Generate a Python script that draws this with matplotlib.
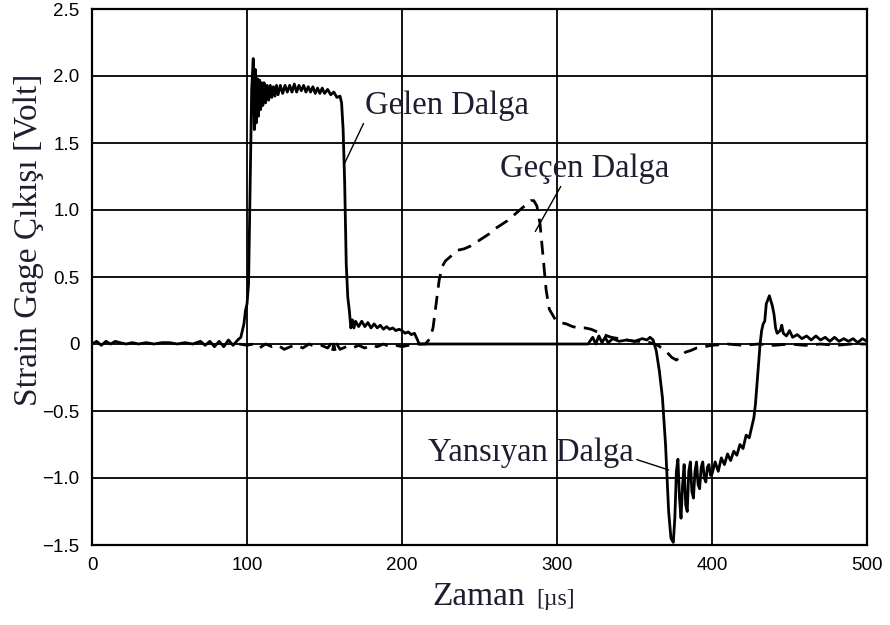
import matplotlib
matplotlib.use("Agg")
import matplotlib.pyplot as plt

# gelen + yansiyan dalga (duz cizgi)
t_solid = [0, 3, 6, 9, 12, 15, 18, 22, 26, 30, 35, 40, 45, 50, 55, 60, 65, 70, 73, 76, 79, 82, 85, 88, 91, 94,
           96, 97, 98, 99, 100, 101, 102, 103, 104, 104.7, 105.3, 106, 106.7, 107.4, 108.1, 108.8, 109.5, 110.2,
           111, 112, 113, 114, 115, 116, 117, 118, 119, 120, 121.5, 123, 124.5, 126, 127.5, 129, 130.5, 132,
           133.5, 135, 136.5, 138, 139.5, 141, 142.5, 144, 145.5, 147, 148.5, 150, 152, 154, 156, 158, 160,
           161, 162, 163, 164, 165, 166, 167, 168, 169, 170, 172, 174, 176, 178, 180, 182, 184, 186, 188, 190,
           192, 194, 196, 198, 200, 202, 204, 206, 208, 210, 211, 220, 240, 260, 280, 300, 320, 323, 325, 327,
           329, 331, 333, 336, 340, 345, 350, 355, 358, 360, 362, 364, 366, 368, 370, 371, 372, 373.5, 375,
           376, 377, 378, 379, 380, 381, 382, 383, 384, 385, 386, 387, 388, 389, 390, 391, 392, 393, 394, 395,
           396, 397, 398, 399, 400, 402, 404, 406, 408, 410, 412, 414, 416, 418, 420, 422, 424, 426, 427, 428,
           429, 430, 431, 432, 433, 434, 435, 436, 437, 438, 439, 440, 441, 442, 444, 445, 446, 448, 450, 452,
           455, 458, 461, 464, 467, 470, 473, 476, 479, 482, 485, 488, 491, 494, 497, 500]
v_solid = [0.0, 0.02, -0.01, 0.02, 0.0, 0.02, 0.01, 0.0, 0.01, 0.0, 0.01, 0.0, 0.01, 0.01, 0.0, 0.01, 0.0, 0.02,
           -0.01, 0.02, -0.02, 0.02, -0.02, 0.03, -0.01, 0.03,
           0.05, 0.1, 0.15, 0.25, 0.3, 0.45, 1.2, 1.9, 2.13, 1.6, 2.05, 1.65, 1.98, 1.7, 1.97, 1.75, 1.95, 1.78,
           1.95, 1.8, 1.93, 1.82, 1.93, 1.84, 1.92, 1.85, 1.93, 1.86, 1.93, 1.87, 1.93, 1.88, 1.93, 1.88, 1.94,
           1.88, 1.93, 1.89, 1.93, 1.88, 1.92, 1.88, 1.92, 1.87, 1.91, 1.87, 1.91, 1.87, 1.9, 1.86, 1.88, 1.84,
           1.85, 1.8, 1.6, 1.2, 0.6, 0.35, 0.25, 0.12, 0.18, 0.12, 0.17, 0.13, 0.17, 0.13, 0.16, 0.12, 0.15,
           0.12, 0.14, 0.11, 0.13, 0.11, 0.12, 0.1, 0.11, 0.1, 0.08, 0.09, 0.07, 0.08, 0.03, 0.0, 0.0, 0.0, 0.0,
           0.0, 0.0, 0.0, 0.05, 0.0, 0.06, 0.01, 0.05, 0.01, 0.04, 0.02, 0.03, 0.02, 0.04, 0.03, 0.05, 0.03,
           -0.05, -0.2, -0.4, -0.75, -1.0, -1.25, -1.45, -1.48, -1.3, -0.95, -0.86, -1.15, -1.3, -1.05, -0.9,
           -1.2, -1.25, -0.95, -0.88, -1.1, -1.15, -0.95, -0.88, -1.05, -1.08, -0.92, -0.88, -1.0, -1.03, -0.92,
           -0.9, -0.98, -0.97, -0.88, -0.95, -0.85, -0.9, -0.82, -0.87, -0.8, -0.83, -0.75, -0.78, -0.68, -0.7,
           -0.6, -0.55, -0.45, -0.3, -0.15, 0.0, 0.1, 0.15, 0.17, 0.3, 0.33, 0.36, 0.32, 0.28, 0.22, 0.12, 0.08,
           0.1, 0.14, 0.08, 0.06, 0.1, 0.05, 0.07, 0.04, 0.06, 0.03, 0.06, 0.03, 0.05, 0.02, 0.05, 0.02, 0.04,
           0.02, 0.04, 0.01, 0.04, 0.02]

# gecen dalga (kesikli cizgi)
t_dash = [95, 100, 104, 108, 112, 116, 120, 124, 128, 132, 136, 140, 144, 148, 152, 154, 155, 156, 157, 158,
          160, 164, 168, 172, 176, 180, 184, 188, 192, 196, 200, 204, 208, 212, 215, 218, 220, 222, 224, 226,
          228, 230, 233, 236, 240, 244, 248, 252, 256, 260, 264, 268, 272, 276, 280, 283, 285, 287, 289, 291,
          293, 295, 297, 299, 302, 306, 310, 314, 318, 322, 326, 330, 335, 340, 345, 350, 355, 360, 365, 370,
          374, 377, 380, 383, 386, 390, 395, 400, 410, 420, 430, 440, 450, 460, 470, 480, 490, 500]
v_dash = [0.0, -0.01, 0.0, -0.03, 0.0, -0.02, -0.01, -0.04, -0.02, -0.01, -0.03, 0.0, -0.02, -0.01, -0.03,
          0.0, -0.06, 0.0, -0.06, 0.0, -0.04, -0.02, -0.03, -0.01, -0.03, -0.01, -0.02, 0.0, -0.02, -0.01,
          -0.02, -0.01, 0.0, 0.0, 0.0, 0.04, 0.12, 0.3, 0.48, 0.58, 0.62, 0.64, 0.67, 0.7, 0.71, 0.73, 0.76,
          0.79, 0.82, 0.86, 0.89, 0.92, 0.96, 1.0, 1.04, 1.07, 1.07, 1.03, 0.9, 0.65, 0.4, 0.26, 0.22, 0.18,
          0.16, 0.15, 0.13, 0.12, 0.12, 0.11, 0.09, 0.07, 0.05, 0.04, 0.03, 0.02, 0.02, 0.01, -0.01, -0.05,
          -0.1, -0.12, -0.09, -0.06, -0.05, -0.03, -0.02, -0.01, 0.0, -0.01, 0.0, -0.01, 0.0, -0.01, 0.0,
          -0.01, 0.0, 0.0]

x_ticks = [0, 100, 200, 300, 400, 500]
y_ticks = [-1.5, -1.0, -0.5, 0, 0.5, 1.0, 1.5, 2.0, 2.5]
y_tick_labels = ["\u22121.5", "\u22121.0", "\u22120.5", "0", "0.5", "1.0", "1.5", "2.0", "2.5"]

txt_col = "#1e1e30"
serif = "Liberation Serif"

fig = plt.figure(figsize=(8.9, 6.25), dpi=100)
ax = fig.add_axes([0.1034, 0.128, 0.8708, 0.8576])

ax.plot(t_solid, v_solid, color="black", lw=2.0, zorder=3)
ax.plot(t_dash, v_dash, color="black", lw=2.0, dashes=(5, 3), zorder=3)

ax.set_xlim(0, 500)
ax.set_ylim(-1.5, 2.5)
ax.set_xticks(x_ticks)
ax.set_yticks(y_ticks)
ax.set_yticklabels(y_tick_labels)
ax.tick_params(length=0, pad=9, labelsize=13.5)
for lab in ax.get_xticklabels() + ax.get_yticklabels():
    lab.set_fontfamily("Liberation Sans")
ax.grid(True, color="black", lw=1.3, zorder=1)
for s in ax.spines.values():
    s.set_linewidth(1.6)

ax.set_ylabel("Strain Gage Çıkışı [Volt]", fontsize=24, family=serif, color=txt_col)
ax.yaxis.set_label_coords(-0.062, 0.57)

fig.text(0.486, 0.032, "Zaman", fontsize=24, family=serif, color=txt_col, ha="left", va="baseline")
fig.text(0.602, 0.032, "[µs]", fontsize=17, family=serif, color=txt_col, ha="left", va="baseline")

arrow = dict(arrowstyle="-", lw=1.0, color="black", shrinkA=0, shrinkB=0)
ax.annotate("Gelen Dalga", xy=(163, 1.35), xytext=(176, 1.78), fontsize=23.5, family=serif, color=txt_col,
            ha="left", va="center", arrowprops=dict(arrow, relpos=(0.0, 0.0)))
ax.annotate("Geçen Dalga", xy=(286, 0.84), xytext=(263, 1.31), fontsize=23.5, family=serif, color=txt_col,
            ha="left", va="center", arrowprops=dict(arrow, relpos=(0.37, 0.0)))
ax.annotate("Yansıyan Dalga", xy=(372, -0.94), xytext=(217, -0.81), fontsize=23.5, family=serif, color=txt_col,
            ha="left", va="center", arrowprops=dict(arrow, relpos=(1.0, 0.3)))

fig.savefig("out.png", dpi=100)
